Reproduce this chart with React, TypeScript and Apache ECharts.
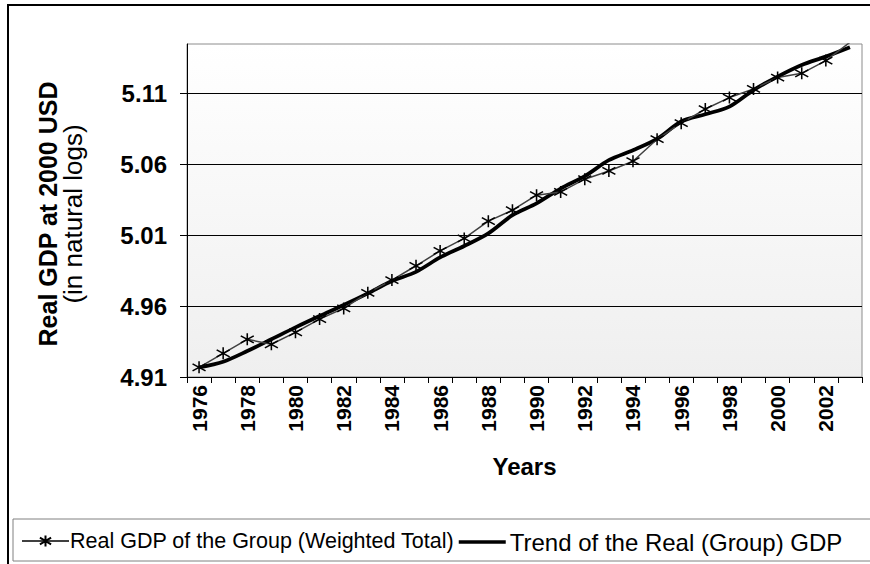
import React, { useEffect, useRef } from "react";
import * as echarts from "echarts";

const years = [
  "1976", "1977", "1978", "1979", "1980", "1981", "1982", "1983", "1984", "1985",
  "1986", "1987", "1988", "1989", "1990", "1991", "1992", "1993", "1994", "1995",
  "1996", "1997", "1998", "1999", "2000", "2001", "2002", "2003",
];

const realGdp = [
  4.9168, 4.9267, 4.9366, 4.9331, 4.9415, 4.9509, 4.9584, 4.9694, 4.9784, 4.9885,
  4.999, 5.0078, 5.02, 5.0277, 5.0383, 5.0406, 5.0496, 5.0554, 5.0623, 5.0778,
  5.0891, 5.0991, 5.1072, 5.1133, 5.1213, 5.1243, 5.1333, 5.1462,
];

const trendGdp = [
  4.9168, 4.9208, 4.9283, 4.9366, 4.945, 4.953, 4.9608, 4.969, 4.9777, 4.9842,
  4.9944, 5.0024, 5.0113, 5.0242, 5.0325, 5.043, 5.0517, 5.063, 5.07, 5.078,
  5.0903, 5.0954, 5.1008, 5.1125, 5.122, 5.1302, 5.1361, 5.1427,
];

const Y_MIN = 4.91;
const Y_MAX = 5.145;
const Y_STEP = 0.05;

const seriesNames = [
  "Real GDP of the Group (Weighted Total)",
  "Trend of the Real (Group) GDP",
];

const FONT = "'Liberation Sans', Arial, sans-serif";
const STAR = "path://M6,0 L6,12 M0,2.5 L12,9.5 M0,9.5 L12,2.5";

export default function App() {
  const ref = useRef<HTMLDivElement>(null);

  useEffect(() => {
    if (!ref.current) return;
    const chart = echarts.init(ref.current, undefined, { renderer: "svg" });
    const shift = (arr: number[]) => arr.map((v) => +(v - Y_MIN).toFixed(5));

    const legendBase = {
      top: 530,
      itemWidth: 47,
      itemHeight: 14,
      itemGap: 4,
      padding: 0,
    };

    chart.setOption({
      animation: false,
      backgroundColor: "#ffffff",
      textStyle: { fontFamily: FONT, color: "#000" },
      grid: {
        left: 187,
        right: 8,
        top: 44,
        bottom: 187,
        show: true,
        borderColor: "#8c8c8c",
        borderWidth: 1,
        backgroundColor: new echarts.graphic.LinearGradient(0, 0, 0, 1, [
          { offset: 0, color: "#ffffff" },
          { offset: 1, color: "#efefef" },
        ]),
      },
      graphic: [
        {
          type: "rect",
          shape: { x: 8, y: 5, width: 900, height: 600 },
          style: { fill: "none", stroke: "#000", lineWidth: 2 },
          silent: true,
        },
        {
          type: "rect",
          shape: { x: 13, y: 519, width: 900, height: 42 },
          style: { fill: "#fff", stroke: "#808080", lineWidth: 1 },
          silent: true,
          z: -1,
        },
        {
          type: "text",
          x: 48,
          y: 214,
          rotation: Math.PI / 2,
          style: {
            text: "Real GDP at 2000 USD",
            font: `bold 25px ${FONT}`,
            fill: "#000",
            align: "center",
            verticalAlign: "middle",
          },
        },
        {
          type: "text",
          x: 73,
          y: 214,
          rotation: Math.PI / 2,
          style: {
            text: "(in natural logs)",
            font: `26px ${FONT}`,
            fill: "#000",
            align: "center",
            verticalAlign: "middle",
          },
        },
      ],
      legend: [
        {
          ...legendBase,
          left: 21,
          textStyle: { fontSize: 21.5, fontFamily: FONT, color: "#000", padding: [0, 0, 0, -4] },
          data: [{ name: seriesNames[0] }],
        },
        {
          ...legendBase,
          left: 457,
          textStyle: { fontSize: 24, fontFamily: FONT, color: "#000", padding: [0, 0, 0, -1] },
          data: [
            {
              name: seriesNames[1],
              itemStyle: { opacity: 0 },
              lineStyle: { width: 3.5, color: "#000" },
            },
          ],
        },
      ],
      xAxis: {
        type: "category",
        data: years,
        boundaryGap: true,
        name: "Years",
        nameLocation: "middle",
        nameGap: 77,
        nameTextStyle: { fontSize: 24, fontWeight: "bold", fontFamily: FONT, color: "#000" },
        axisLine: { show: true, lineStyle: { color: "#000", width: 1 } },
        axisTick: { show: true, interval: 0, length: 6, lineStyle: { color: "#000" } },
        axisLabel: {
          interval: 1,
          rotate: 90,
          fontSize: 21,
          fontWeight: "bold",
          fontFamily: FONT,
          color: "#000",
          margin: 8,
        },
        splitLine: { show: false },
      },
      yAxis: {
        type: "value",
        min: 0,
        max: +(Y_MAX - Y_MIN).toFixed(4),
        interval: Y_STEP,
        axisLine: { show: true, lineStyle: { color: "#000", width: 1 } },
        axisTick: { show: true, length: 7, lineStyle: { color: "#000" } },
        axisLabel: {
          fontSize: 24,
          fontWeight: "bold",
          fontFamily: FONT,
          color: "#000",
          margin: 20,
          showMaxLabel: false,
          formatter: (v: number) => (v + Y_MIN).toFixed(2),
        },
        splitLine: { show: true, showMaxLine: false, lineStyle: { color: "#000", width: 1 } },
      },
      series: [
        {
          name: seriesNames[0],
          type: "line",
          data: shift(realGdp),
          clip: true,
          symbol: STAR,
          symbolSize: [13, 12],
          showAllSymbol: true,
          lineStyle: { color: "#404040", width: 1.5 },
          itemStyle: { color: "none", borderColor: "#000", borderWidth: 1.5 },
          z: 3,
        },
        {
          name: seriesNames[1],
          type: "line",
          data: shift(trendGdp),
          clip: true,
          smooth: 0.3,
          symbol: "none",
          lineStyle: { color: "#000", width: 3.8 },
          itemStyle: { color: "#000" },
          z: 2,
        },
      ],
    });

    return () => chart.dispose();
  }, []);

  return (
    <div
      ref={ref}
      style={{ position: "fixed", left: 0, top: 0, width: 870, height: 564 }}
    />
  );
}
